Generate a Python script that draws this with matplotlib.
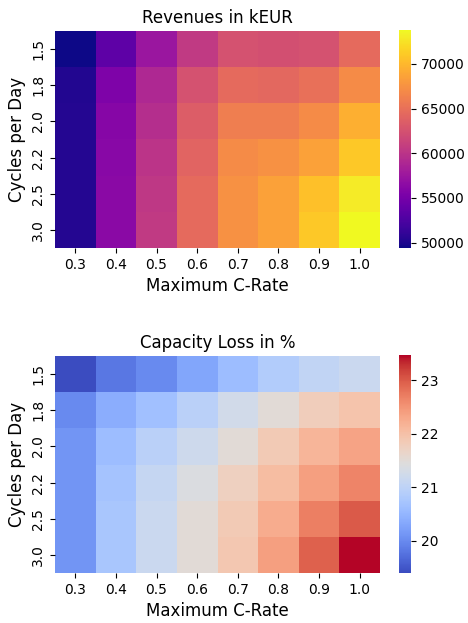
import numpy as np
import pandas as pd
import seaborn as sns
from matplotlib import pyplot as plt

# Axis categories
c_rates = [0.3, 0.4, 0.5, 0.6, 0.7, 0.8, 0.9, 1.0]
cycles = [1.5, 1.8, 2.0, 2.2, 2.5, 3.0]

# Revenues in kEUR (rows = cycles per day, cols = max C-rate)
rev_15 = [49400, 53500, 57500, 60500, 62500, 62300, 62500, 64500]
rev_18 = [50200, 55500, 59000, 62500, 64500, 64300, 65000, 67000]
rev_20 = [50300, 56000, 59500, 63500, 66000, 66000, 67000, 69500]
rev_22 = [50300, 56200, 60000, 64000, 67000, 67500, 68500, 71000]
rev_25 = [50300, 56300, 60300, 64500, 67500, 68500, 70500, 73000]
rev_30 = [50300, 56300, 60500, 64500, 67500, 68500, 71000, 73800]

# Capacity loss in %
loss_15 = [19.4, 19.8, 20.0, 20.3, 20.6, 20.85, 21.05, 21.15]
loss_18 = [20.0, 20.4, 20.65, 20.95, 21.25, 21.5, 21.8, 21.95]
loss_20 = [20.1, 20.6, 20.95, 21.2, 21.5, 21.85, 22.15, 22.35]
loss_22 = [20.1, 20.7, 21.1, 21.4, 21.75, 22.05, 22.4, 22.65]
loss_25 = [20.1, 20.75, 21.15, 21.5, 21.85, 22.25, 22.7, 23.0]
loss_30 = [20.1, 20.75, 21.15, 21.5, 21.9, 22.4, 22.95, 23.47]

revenues = pd.DataFrame([rev_15, rev_18, rev_20, rev_22, rev_25, rev_30],
                        index=cycles, columns=c_rates)
loss = pd.DataFrame([loss_15, loss_18, loss_20, loss_22, loss_25, loss_30],
                    index=cycles, columns=c_rates)

W, H = 468, 623
fig = plt.figure(figsize=(W / 100, H / 100), dpi=100)

def px_axes(x0, y0, x1, y1):
    # pixel box (top-left origin) -> figure axes
    return fig.add_axes([x0 / W, 1 - y1 / H, (x1 - x0) / W, (y1 - y0) / H])

ax1 = px_axes(55, 31, 380, 248)
cax1 = px_axes(399, 30, 411, 248)
ax2 = px_axes(55, 356, 380, 573)
cax2 = px_axes(399, 355, 411, 573)

def heat(ax, cax, data, cmap, title):
    sns.heatmap(data, ax=ax, cbar_ax=cax, cmap=cmap,
                xticklabels=[f'{v:.1f}' for v in c_rates],
                yticklabels=[f'{v:.1f}' for v in cycles])
    ax.set_title(title, fontsize=12)
    ax.set_xlabel('Maximum C-Rate', fontsize=12)
    ax.set_ylabel('Cycles per Day', fontsize=12)
    ax.tick_params(labelsize=10)
    cax.tick_params(labelsize=10)

heat(ax1, cax1, revenues, 'plasma', 'Revenues in kEUR')
heat(ax2, cax2, loss, 'coolwarm', 'Capacity Loss in %')
cax2.set_yticks([20, 21, 22, 23])

plt.savefig('out.png', dpi=100)
